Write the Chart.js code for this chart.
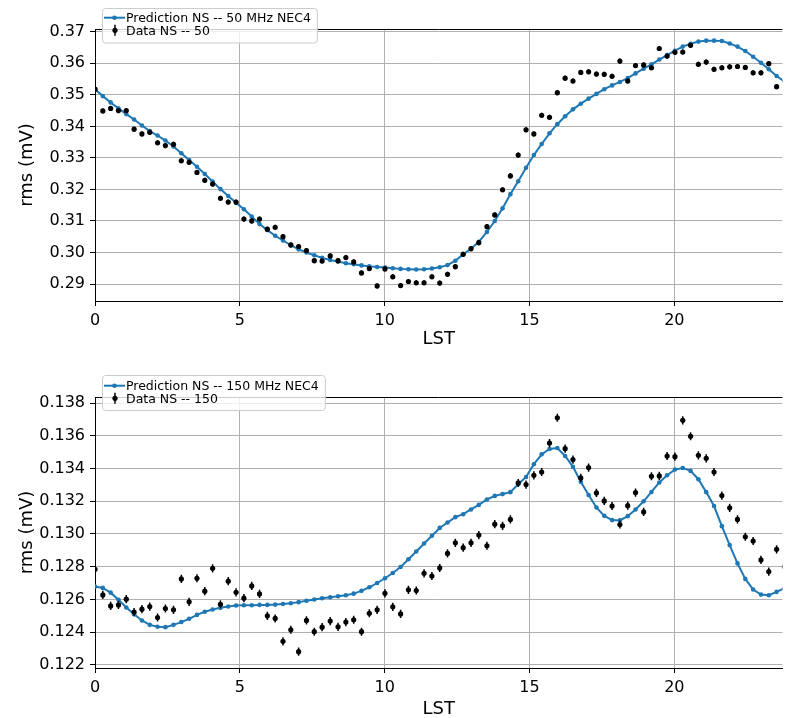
<!DOCTYPE html>
<html>
<head>
<meta charset="utf-8">
<script src="https://cdn.jsdelivr.net/npm/chart.js@4.4.0/dist/chart.umd.min.js"></script>
<style>
  html, body { margin: 0; padding: 0; background: #fff; }
  #wrap { position: relative; width: 785px; height: 718px; overflow: hidden; }
  .panel { position: absolute; left: 0; width: 785px; height: 359px; }
  #panelTop { top: 0; }
  #panelBot { top: 359px; }
</style>
</head>
<body>
<div id="wrap">
  <div class="panel" id="panelTop"><canvas id="chartTop" width="785" height="359"></canvas></div>
  <div class="panel" id="panelBot"><canvas id="chartBot" width="785" height="359"></canvas></div>
</div>
<script>
// LST grid (hours) shared by both panels
const lst = [0, 0.27, 0.54, 0.81, 1.08, 1.35, 1.62, 1.89, 2.16, 2.43, 2.71, 2.98, 3.25, 3.52, 3.79,
  4.06, 4.33, 4.60, 4.87, 5.14, 5.41, 5.68, 5.95, 6.22, 6.49, 6.76, 7.03, 7.30, 7.57, 7.84,
  8.12, 8.39, 8.66, 8.93, 9.20, 9.47, 9.74, 10.01, 10.28, 10.55, 10.82, 11.09, 11.36, 11.63, 11.90,
  12.17, 12.44, 12.71, 12.98, 13.25, 13.53, 13.80, 14.07, 14.34, 14.61, 14.88, 15.15, 15.42, 15.69, 15.96,
  16.23, 16.50, 16.77, 17.04, 17.31, 17.58, 17.85, 18.12, 18.39, 18.66, 18.94, 19.21, 19.48, 19.75, 20.02,
  20.29, 20.56, 20.83, 21.10, 21.37, 21.64, 21.91, 22.18, 22.45, 22.72, 22.99, 23.26, 23.53, 23.80];

// 50 MHz panel
const pred50 = [0.3518, 0.3496, 0.3476, 0.3457, 0.3439, 0.3422, 0.3403, 0.3385, 0.3371, 0.3355, 0.3336, 0.3315, 0.3293, 0.3272, 0.3249,
  0.3225, 0.3201, 0.3179, 0.3158, 0.3137, 0.3114, 0.3090, 0.3071, 0.3053, 0.3038, 0.3023, 0.3010, 0.3000, 0.2991, 0.2983,
  0.2976, 0.2971, 0.2966, 0.2963, 0.2959, 0.2956, 0.2954, 0.2952, 0.2950, 0.2948, 0.2947, 0.2946, 0.2947, 0.2949, 0.2953,
  0.2960, 0.2974, 0.2994, 0.3012, 0.3034, 0.3065, 0.3100, 0.3140, 0.3185, 0.3226, 0.3269, 0.3309, 0.3344, 0.3378, 0.3407,
  0.3432, 0.3454, 0.3472, 0.3488, 0.3503, 0.3518, 0.3530, 0.3541, 0.3553, 0.3568, 0.3583, 0.3597, 0.3612, 0.3626, 0.3640,
  0.3653, 0.3662, 0.3669, 0.3672, 0.3672, 0.3671, 0.3663, 0.3653, 0.3639, 0.3621, 0.3602, 0.3581, 0.3560, 0.3542];
const data50 = [0.3518, 0.3449, 0.3457, 0.3450, 0.3450, 0.3391, 0.3376, 0.3381, 0.3348, 0.3339, 0.3343, 0.3291, 0.3286, 0.3254, 0.3229,
  0.3217, 0.3172, 0.3160, 0.3160, 0.3106, 0.3100, 0.3106, 0.3074, 0.3080, 0.3050, 0.3024, 0.3019, 0.3006, 0.2974, 0.2973,
  0.2989, 0.2974, 0.2984, 0.2970, 0.2935, 0.2949, 0.2894, 0.2948, 0.2923, 0.2895, 0.2908, 0.2904, 0.2904, 0.2923, 0.2903,
  0.2931, 0.2955, 0.2994, 0.3012, 0.3031, 0.3082, 0.3119, 0.3199, 0.3243, 0.3309, 0.3389, 0.3376, 0.3435, 0.3429, 0.3507,
  0.3553, 0.3544, 0.3571, 0.3573, 0.3566, 0.3565, 0.3559, 0.3607, 0.3544, 0.3593, 0.3595, 0.3586, 0.3647, 0.3623, 0.3635,
  0.3636, 0.3657, 0.3597, 0.3604, 0.3581, 0.3586, 0.3589, 0.3590, 0.3587, 0.3570, 0.3570, 0.3599, 0.3526];
const err50 = 0.0008;

// 150 MHz panel
const pred150 = [0.12678, 0.12670, 0.12641, 0.12597, 0.12550, 0.12509, 0.12471, 0.12444, 0.12432, 0.12430, 0.12444, 0.12461, 0.12481, 0.12505, 0.12524,
  0.12538, 0.12548, 0.12556, 0.12562, 0.12564, 0.12564, 0.12566, 0.12566, 0.12568, 0.12572, 0.12576, 0.12583, 0.12591, 0.12599, 0.12607,
  0.12613, 0.12619, 0.12625, 0.12635, 0.12652, 0.12674, 0.12700, 0.12729, 0.12761, 0.12798, 0.12845, 0.12893, 0.12942, 0.12989, 0.13037,
  0.13070, 0.13103, 0.13121, 0.13150, 0.13178, 0.13211, 0.13233, 0.13244, 0.13256, 0.13304, 0.13349, 0.13427, 0.13487, 0.13520, 0.13526,
  0.13477, 0.13411, 0.13319, 0.13238, 0.13162, 0.13111, 0.13085, 0.13083, 0.13109, 0.13150, 0.13200, 0.13257, 0.13315, 0.13359, 0.13394,
  0.13404, 0.13386, 0.13335, 0.13256, 0.13171, 0.13048, 0.12932, 0.12820, 0.12725, 0.12660, 0.12629, 0.12625, 0.12646, 0.12668];
const data150 = [0.12784, 0.12627, 0.12560, 0.12566, 0.12601, 0.12522, 0.12540, 0.12556, 0.12489, 0.12544, 0.12536, 0.12725, 0.12585, 0.12729, 0.12650,
  0.12790, 0.12570, 0.12711, 0.12643, 0.12607, 0.12682, 0.12633, 0.12499, 0.12483, 0.12343, 0.12414, 0.12280, 0.12471, 0.12402, 0.12430,
  0.12467, 0.12432, 0.12461, 0.12475, 0.12402, 0.12515, 0.12536, 0.12637, 0.12554, 0.12511, 0.12658, 0.12654, 0.12759, 0.12743, 0.12792,
  0.12881, 0.12946, 0.12916, 0.12946, 0.12993, 0.12928, 0.13060, 0.13050, 0.13089, 0.13312, 0.13302, 0.13359, 0.13379, 0.13556, 0.13711,
  0.13522, 0.13455, 0.13343, 0.13406, 0.13251, 0.13202, 0.13171, 0.13058, 0.13173, 0.13253, 0.13135, 0.13353, 0.13355, 0.13477, 0.13473,
  0.13695, 0.13598, 0.13481, 0.13463, 0.13379, 0.13235, 0.13160, 0.13089, 0.12983, 0.12957, 0.12841, 0.12770, 0.12906, 0.12800];
const err150 = 0.00025;

const xTicks = [0, 5, 10, 15, 20];

const FONT = '"DejaVu Sans", "Liberation Sans", sans-serif';
const BLUE = '#1f77b4';

function toPoints(xs, ys) {
    return xs.map((x, i) => ({ x: x, y: ys[i] })).filter(p => p.y != null);
}

// vertical error bars drawn through the y scale
const errorBarPlugin = {
    id: 'errorBars',
    afterDatasetsDraw(chart, args, opts) {
        const ds = chart.data.datasets[opts.datasetIndex];
        const xs = chart.scales.x, ys = chart.scales.y;
        const ctx = chart.ctx, a = chart.chartArea;
        ctx.save();
        ctx.beginPath();
        ctx.rect(a.left, a.top, a.right - a.left, a.bottom - a.top);
        ctx.clip();
        ctx.strokeStyle = '#000';
        ctx.lineWidth = 1.5;
        ds.data.forEach(p => {
            const px = xs.getPixelForValue(p.x);
            ctx.beginPath();
            ctx.moveTo(px, ys.getPixelForValue(p.y - opts.err));
            ctx.lineTo(px, ys.getPixelForValue(p.y + opts.err));
            ctx.stroke();
        });
        ctx.restore();
    }
};

function roundRect(ctx, x, y, w, h, r) {
    ctx.beginPath();
    ctx.moveTo(x + r, y);
    ctx.arcTo(x + w, y, x + w, y + h, r);
    ctx.arcTo(x + w, y + h, x, y + h, r);
    ctx.arcTo(x, y + h, x, y, r);
    ctx.arcTo(x, y, x + w, y, r);
    ctx.closePath();
}

// top spine + matplotlib style legend box
const framePlugin = {
    id: 'frame',
    afterDraw(chart, args, opts) {
        const ctx = chart.ctx, a = chart.chartArea;
        ctx.save();
        ctx.strokeStyle = '#000';
        ctx.lineWidth = 1;
        ctx.beginPath();
        ctx.moveTo(a.left, a.top + 0.5);
        ctx.lineTo(a.right, a.top + 0.5);
        ctx.stroke();

        ctx.font = '12.5px ' + FONT;
        const textX = 126;
        const tw = Math.max(ctx.measureText(opts.labels[0]).width, ctx.measureText(opts.labels[1]).width);
        const boxX = 102;
        roundRect(ctx, boxX + 0.5, opts.boxTop + 0.5, textX + tw + 6 - boxX, opts.boxH, 3);
        ctx.fillStyle = 'rgba(255,255,255,0.8)';
        ctx.fill();
        ctx.strokeStyle = '#cccccc';
        ctx.stroke();

        const r1 = opts.rows[0], r2 = opts.rows[1];
        ctx.strokeStyle = BLUE;
        ctx.lineWidth = 2;
        ctx.beginPath();
        ctx.moveTo(104, r1);
        ctx.lineTo(125, r1);
        ctx.stroke();
        ctx.fillStyle = BLUE;
        ctx.beginPath();
        ctx.arc(114.5, r1, 2.3, 0, Math.PI * 2);
        ctx.fill();

        ctx.fillStyle = '#000';
        ctx.strokeStyle = '#000';
        ctx.lineWidth = 1.5;
        ctx.beginPath();
        ctx.moveTo(115, r2 - 5.5);
        ctx.lineTo(115, r2 + 5.5);
        ctx.stroke();
        ctx.beginPath();
        ctx.arc(115, r2, 2.6, 0, Math.PI * 2);
        ctx.fill();

        ctx.textBaseline = 'alphabetic';
        ctx.textAlign = 'left';
        ctx.fillText(opts.labels[0], textX, r1 + 4.6);
        ctx.fillText(opts.labels[1], textX, r2 + 4.6);
        ctx.restore();
    }
};

function makeChart(id, p) {
    return new Chart(document.getElementById(id), {
        type: 'scatter',
        data: {
            datasets: [
                {
                    label: p.labels[0],
                    data: toPoints(lst, p.pred),
                    showLine: true,
                    borderColor: BLUE,
                    backgroundColor: BLUE,
                    borderWidth: 2,
                    pointRadius: 2.3,
                    pointBorderWidth: 0,
                    pointHoverRadius: 2.3,
                    tension: 0,
                    order: 1
                },
                {
                    label: p.labels[1],
                    data: toPoints(lst, p.data),
                    showLine: false,
                    borderColor: '#000',
                    backgroundColor: '#000',
                    pointRadius: 2.6,
                    pointBorderWidth: 0,
                    pointHoverRadius: 2.6,
                    order: 0
                }
            ]
        },
        options: {
            responsive: false,
            animation: false,
            devicePixelRatio: 1,
            events: [],
            layout: { padding: { top: p.padTop, left: 0, right: 0, bottom: 0 } },
            plugins: {
                legend: { display: false },
                tooltip: { enabled: false },
                errorBars: { datasetIndex: 1, err: p.err },
                frame: { labels: p.labels, boxTop: p.boxTop, boxH: p.boxH, rows: p.rows }
            },
            scales: {
                x: {
                    type: 'linear',
                    min: 0,
                    max: 23.73,
                    afterBuildTicks: s => { s.ticks = xTicks.map(v => ({ value: v })); },
                    ticks: { font: { family: FONT, size: 16 }, color: '#000', padding: 5, maxRotation: 0 },
                    grid: { color: '#b0b0b0', lineWidth: 1, tickColor: '#000', tickLength: 5, tickWidth: 1 },
                    border: { color: '#000', width: 1 },
                    title: {
                        display: true, text: 'LST', color: '#000',
                        font: { family: FONT, size: 18, lineHeight: 1 },
                        padding: { top: 0, bottom: p.xTitlePad }
                    },
                    afterFit: s => { s.height = p.xAxisH; }
                },
                y: {
                    min: p.yMin,
                    max: p.yMax,
                    afterBuildTicks: s => { s.ticks = p.yTicks.map(v => ({ value: v })); },
                    ticks: {
                        font: { family: FONT, size: 16 }, color: '#000', padding: 5,
                        callback: v => v.toFixed(p.dec)
                    },
                    grid: { color: '#b0b0b0', lineWidth: 1, tickColor: '#000', tickLength: 5, tickWidth: 1 },
                    border: { color: '#000', width: 1 },
                    title: {
                        display: true, text: 'rms (mV)', color: '#000',
                        font: { family: FONT, size: 18, lineHeight: 1 },
                        padding: { top: 18, bottom: 0 }
                    },
                    afterFit: s => { s.width = 95; }
                }
            }
        },
        plugins: [errorBarPlugin, framePlugin]
    });
}

const yTicks50 = [0.29, 0.30, 0.31, 0.32, 0.33, 0.34, 0.35, 0.36, 0.37];
const yTicks150 = [0.122, 0.124, 0.126, 0.128, 0.130, 0.132, 0.134, 0.136, 0.138];

makeChart('chartTop', {
    pred: pred50, data: data50, err: err50,
    labels: ['Prediction NS -- 50 MHz NEC4', 'Data NS -- 50'],
    yMin: 0.28461, yMax: 0.37089, yTicks: yTicks50, dec: 2,
    padTop: 29, xAxisH: 58, xTitlePad: 11,
    boxTop: 8, boxH: 34.5, rows: [17.7, 30.3]
});

makeChart('chartBot', {
    pred: pred150, data: data150, err: err150,
    labels: ['Prediction NS -- 150 MHz NEC4', 'Data NS -- 150'],
    yMin: 0.12180, yMax: 0.13838, yTicks: yTicks150, dec: 3,
    padTop: 38, xAxisH: 50, xTitlePad: 0,
    boxTop: 16, boxH: 35, rows: [26.7, 39.3]
});
</script>
</body>
</html>
